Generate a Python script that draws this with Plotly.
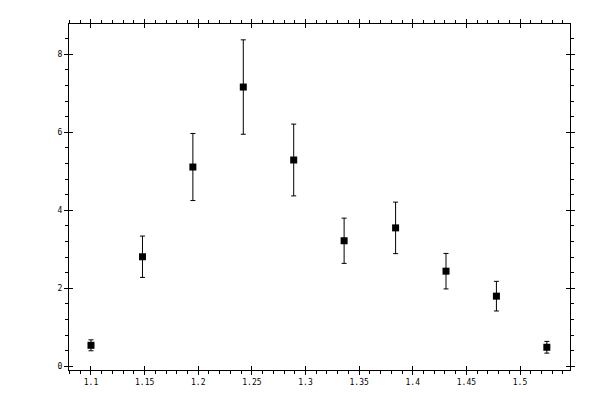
import plotly.graph_objects as go

x_vals = [1.100, 1.148, 1.195, 1.242, 1.289, 1.336, 1.384, 1.431, 1.478, 1.525]
y_vals = [0.54, 2.81, 5.11, 7.16, 5.29, 3.22, 3.55, 2.44, 1.80, 0.49]
y_err = [0.14, 0.53, 0.86, 1.21, 0.92, 0.58, 0.66, 0.455, 0.38, 0.15]

x_range = [1.0795, 1.5466]
y_range = [-0.093, 8.776]
x_ticks = [1.1, 1.15, 1.2, 1.25, 1.3, 1.35, 1.4, 1.45, 1.5]
x_labels = ["1.1", "1.15", "1.2", "1.25", "1.3", "1.35", "1.4", "1.45", "1.5"]
y_ticks = [0, 2, 4, 6, 8]
y_labels = ["0", "2", "4", "6", "8"]

fig = go.Figure()
fig.add_trace(go.Scatter(
    x=x_vals, y=y_vals, mode="markers",
    marker=dict(symbol="square", size=7, color="black", line=dict(width=0)),
    error_y=dict(type="data", array=y_err, visible=True, color="black",
                 thickness=1, width=2.5),
    showlegend=False,
))
# invisible trace on overlay axes so they render
fig.add_trace(go.Scatter(x=[x_vals[0]], y=[y_vals[0]], xaxis="x2", yaxis="y2",
                         mode="markers", marker=dict(opacity=0), showlegend=False,
                         hoverinfo="skip"))

font = dict(family="DejaVu Sans Mono", size=8, color="black")
common = dict(showgrid=False, zeroline=False, showline=True, linecolor="black",
              linewidth=1, tickcolor="black", tickwidth=1, mirror="allticks")

# page has an 8px body margin, so margins are shifted accordingly
fig.update_layout(
    width=600, height=400,
    margin=dict(l=61, r=38, t=11, b=38),
    paper_bgcolor="white", plot_bgcolor="white",
    font=font,
    xaxis=dict(range=x_range, tickmode="array", tickvals=x_ticks, ticktext=x_labels,
               ticks="outside", ticklen=4,
               minor=dict(dtick=0.01, tick0=1.0, ticks="outside", ticklen=3,
                          tickcolor="black", tickwidth=1, showgrid=False),
               tickfont=font, **common),
    yaxis=dict(range=y_range, tickmode="array", tickvals=y_ticks, ticktext=y_labels,
               ticks="outside", ticklen=4,
               minor=dict(dtick=0.4, tick0=0, ticks="outside", ticklen=3,
                          tickcolor="black", tickwidth=1, showgrid=False),
               tickfont=font, **common),
    xaxis2=dict(range=x_range, overlaying="x", tickmode="array", tickvals=x_ticks,
                ticks="inside", ticklen=4, showticklabels=False, **common),
    yaxis2=dict(range=y_range, overlaying="y", tickmode="array", tickvals=y_ticks,
                ticks="inside", ticklen=4, showticklabels=False, **common),
)

fig.write_html("out.html")
